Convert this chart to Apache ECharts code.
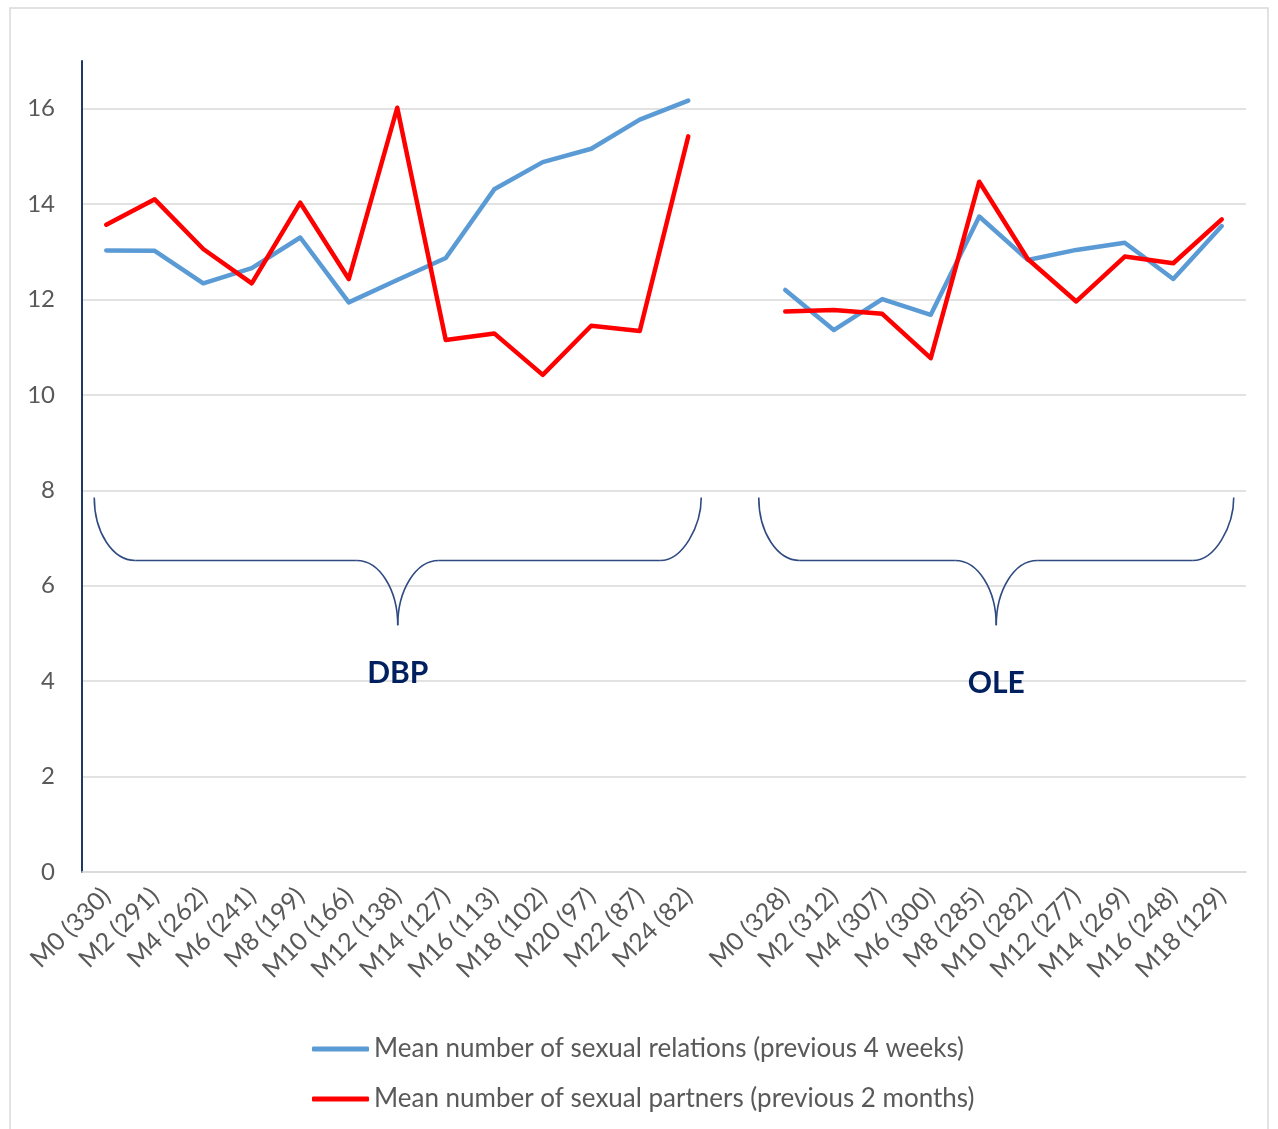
<!DOCTYPE html>
<html>
<head>
<meta charset="utf-8">
<script src="https://cdn.jsdelivr.net/npm/echarts@6/dist/echarts.min.js"></script>
<style>
  html, body { margin: 0; padding: 0; background: #fff; }
  #main { width: 1278px; height: 1129px; }
</style>
</head>
<body>
<div id="main"></div>
<script>
// categories: DBP months, one empty slot, then OLE months
const dbpMonths = ['M0 (330)', 'M2 (291)', 'M4 (262)', 'M6 (241)', 'M8 (199)', 'M10 (166)', 'M12 (138)',
  'M14 (127)', 'M16 (113)', 'M18 (102)', 'M20 (97)', 'M22 (87)', 'M24 (82)']
const oleMonths = ['M0 (328)', 'M2 (312)', 'M4 (307)', 'M6 (300)', 'M8 (285)', 'M10 (282)', 'M12 (277)',
  'M14 (269)', 'M16 (248)', 'M18 (129)']
const categories = dbpMonths.concat([''], oleMonths)

// mean number of sexual relations (previous 4 weeks)
const relationsDbp = [13.03, 13.02, 12.34, 12.66, 13.30, 11.94, 12.41, 12.87, 14.31, 14.88, 15.16, 15.77, 16.17]
const relationsOle = [12.20, 11.36, 12.01, 11.68, 13.74, 12.83, 13.04, 13.19, 12.43, 13.54]
// mean number of sexual partners (previous 2 months)
const partnersDbp = [13.57, 14.10, 13.06, 12.34, 14.03, 12.43, 16.02, 11.15, 11.29, 10.42, 11.45, 11.34, 15.42]
const partnersOle = [11.75, 11.78, 11.70, 10.77, 14.47, 12.85, 11.96, 12.90, 12.76, 13.68]

const relations = relationsDbp.concat([null], relationsOle)
const partners = partnersDbp.concat([null], partnersOle)

const seriesNames = ['Mean number of sexual relations (previous 4 weeks)', 'Mean number of sexual partners (previous 2 months)']

const font = 'Lato, "Open Sans", sans-serif'
const chart = echarts.init(document.getElementById('main'))

const option = {
  animation: false,
  grid: { left: 82, right: 32, top: 61, bottom: 257, containLabel: false },
  legend: {
    orient: 'vertical',
    left: 307,
    top: 1031,
    icon: 'roundRect',
    itemWidth: 57,
    itemHeight: 5,
    itemGap: 24,
    textStyle: { fontFamily: font, fontSize: 26, color: '#595959' },
    data: seriesNames
  },
  xAxis: {
    type: 'category',
    data: categories,
    boundaryGap: true,
    axisLine: { lineStyle: { color: '#d9d9d9', width: 1.5 } },
    axisTick: { show: false },
    axisLabel: { rotate: 45, interval: 0, margin: 20, fontFamily: font, fontSize: 25, color: '#595959' }
  },
  yAxis: {
    type: 'value',
    min: 0,
    max: 17,
    interval: 2,
    axisLine: { show: true, lineStyle: { color: '#203864', width: 2 } },
    axisTick: { show: false },
    axisLabel: { margin: 27, fontFamily: font, fontSize: 24, color: '#595959', showMaxLabel: false },
    splitLine: { showMaxLine: false, lineStyle: { color: '#d9d9d9', width: 1.5 } }
  },
  series: [
    {
      name: seriesNames[0],
      type: 'line',
      data: relations,
      symbol: 'none',
      connectNulls: false,
      lineStyle: { color: '#5b9bd5', width: 4.5, cap: 'round', join: 'round' },
      itemStyle: { color: '#5b9bd5' }
    },
    {
      name: seriesNames[1],
      type: 'line',
      data: partners,
      symbol: 'none',
      connectNulls: false,
      lineStyle: { color: '#ff0000', width: 4.5, cap: 'round', join: 'round' },
      itemStyle: { color: '#ff0000' }
    }
  ]
}
chart.setOption(option)

// curly braces under each study phase, placed through the axes
const braceStyle = { stroke: '#2f4b82', lineWidth: 1.6, fill: null }

function braceParts (x0, x1, yTop, yMid, yTip) {
  const k = 0.5523
  const rx = 41
  const xc = (x0 + x1) / 2
  const ry1 = yMid - yTop
  const ry2 = yTip - yMid
  const curve = (a, b, c1, c2) => ({
    type: 'bezierCurve',
    shape: { x1: a[0], y1: a[1], x2: b[0], y2: b[1], cpx1: c1[0], cpy1: c1[1], cpx2: c2[0], cpy2: c2[1] },
    style: braceStyle,
    silent: true
  })
  const line = (a, b) => ({
    type: 'line',
    shape: { x1: a[0], y1: a[1], x2: b[0], y2: b[1] },
    style: braceStyle,
    silent: true
  })
  return [
    curve([x0, yTop], [x0 + rx, yMid], [x0, yTop + k * ry1], [x0 + rx - k * rx, yMid]),
    line([x0 + rx, yMid], [xc - rx, yMid]),
    curve([xc - rx, yMid], [xc, yTip], [xc - rx + k * rx, yMid], [xc, yTip - k * ry2]),
    curve([xc, yTip], [xc + rx, yMid], [xc, yTip - k * ry2], [xc + rx - k * rx, yMid]),
    line([xc + rx, yMid], [x1 - rx, yMid]),
    curve([x1 - rx, yMid], [x1, yTop], [x1 - rx + k * rx, yMid], [x1, yMid - k * ry1])
  ]
}

const braces = [
  { label: 'DBP', from: 0, to: 12, padL: -12, padR: 13, labelY: 4.17 },
  { label: 'OLE', from: 13, to: 23, padL: 22, padR: 12, labelY: 3.95 }
]

const px = i => chart.convertToPixel({ xAxisIndex: 0 }, i)
const py = v => chart.convertToPixel({ yAxisIndex: 0 }, v)

let graphics = [
  {
    type: 'rect',
    shape: { x: 10, y: 8, width: 1258, height: 1140 },
    style: { fill: null, stroke: '#d9d9d9', lineWidth: 1.5 },
    silent: true
  }
]
braces.forEach(b => {
  const x0 = px(b.from) + b.padL
  const x1 = px(b.to) + b.padR
  graphics = graphics.concat(braceParts(x0, x1, py(7.85), py(6.53), py(5.17)))
  graphics.push({
    type: 'text',
    x: (x0 + x1) / 2,
    y: py(b.labelY),
    style: {
      text: b.label,
      fontFamily: font,
      fontWeight: 'bold',
      fontSize: 30,
      fill: '#002060',
      align: 'center',
      verticalAlign: 'middle'
    },
    silent: true
  })
})
chart.setOption({ graphic: graphics })
</script>
</body>
</html>
